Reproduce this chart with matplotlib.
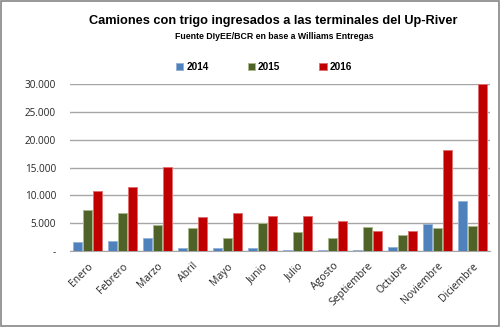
import matplotlib.pyplot as plt
import numpy as np
from matplotlib.patches import Rectangle

months = ["Enero", "Febrero", "Marzo", "Abril", "Mayo", "Junio", "Julio",
          "Agosto", "Septiembre", "Octubre", "Noviembre", "Diciembre"]
v2014 = [1560, 1740, 2280, 600, 480, 600, 200, 100, 200, 720, 4850, 8980]
v2015 = [7310, 6770, 4610, 4130, 2340, 5030, 3350, 2280, 4310, 2870, 4190, 4550]
v2016 = [10780, 11440, 15090, 6110, 6880, 6290, 6230, 5390, 3590, 3590, 18140, 30000]
yticks = [0, 5000, 10000, 15000, 20000, 25000, 30000]
ytick_labels = ["-", "5.000", "10.000", "15.000", "20.000", "25.000", "30.000"]

plt.rcParams["font.family"] = ["Open Sans", "DejaVu Sans"]
title_font = "Liberation Sans"

fig = plt.figure(figsize=(5, 3.27), dpi=100)
ax = fig.add_axes([0.14, 0.2324, 0.84, 0.5107])

x = np.arange(len(months))
w = 0.24
step = 0.29
ax.bar(x - step, v2014, w, color="#4F81BD", edgecolor="#95B3D7", linewidth=0.7, label="2014", zorder=3)
ax.bar(x, v2015, w, color="#4F6228", edgecolor="#A9B98A", linewidth=0.7, label="2015", zorder=3)
ax.bar(x + step, v2016, w, color="#C00000", edgecolor="#E07070", linewidth=0.7, label="2016", zorder=3)

ax.set_xlim(-0.5, 11.5)
ax.set_ylim(0, 30000)
ax.set_yticks(yticks)
ax.set_yticklabels(ytick_labels, fontsize=7.2)
ax.set_xticks(x)
ax.set_xticklabels(months, rotation=45, ha="right", rotation_mode="anchor", fontsize=7.5)
ax.tick_params(length=0, colors="#262626")
ax.tick_params(axis="y", pad=10)
ax.tick_params(axis="x", pad=7)
ax.grid(axis="y", color="#A6A6A6", linewidth=1, zorder=0)
for s in ["top", "right", "left"]:
    ax.spines[s].set_visible(False)
ax.spines["bottom"].set_color("#A6A6A6")

fig.text(0.546, 0.935, "Camiones con trigo ingresados a las terminales del Up-River",
         ha="center", va="center", fontsize=9.2, fontweight="bold", family=title_font)
fig.text(0.548, 0.887, "Fuente DIyEE/BCR en base a Williams Entregas",
         ha="center", va="center", fontsize=6.3, fontweight="bold", family=title_font)

fig.legend(loc="center", bbox_to_anchor=(0.528, 0.795), ncol=3, frameon=False,
           prop={"weight": "bold", "size": 7.2, "family": title_font}, handlelength=0.75, handleheight=0.75,
           columnspacing=3.9, handletextpad=0.3)

fig.patches.append(Rectangle((0.002, 0.003), 0.996, 0.994, transform=fig.transFigure,
                             fill=False, edgecolor="#868686", linewidth=1.2))

fig.savefig("out.png", dpi=100)
